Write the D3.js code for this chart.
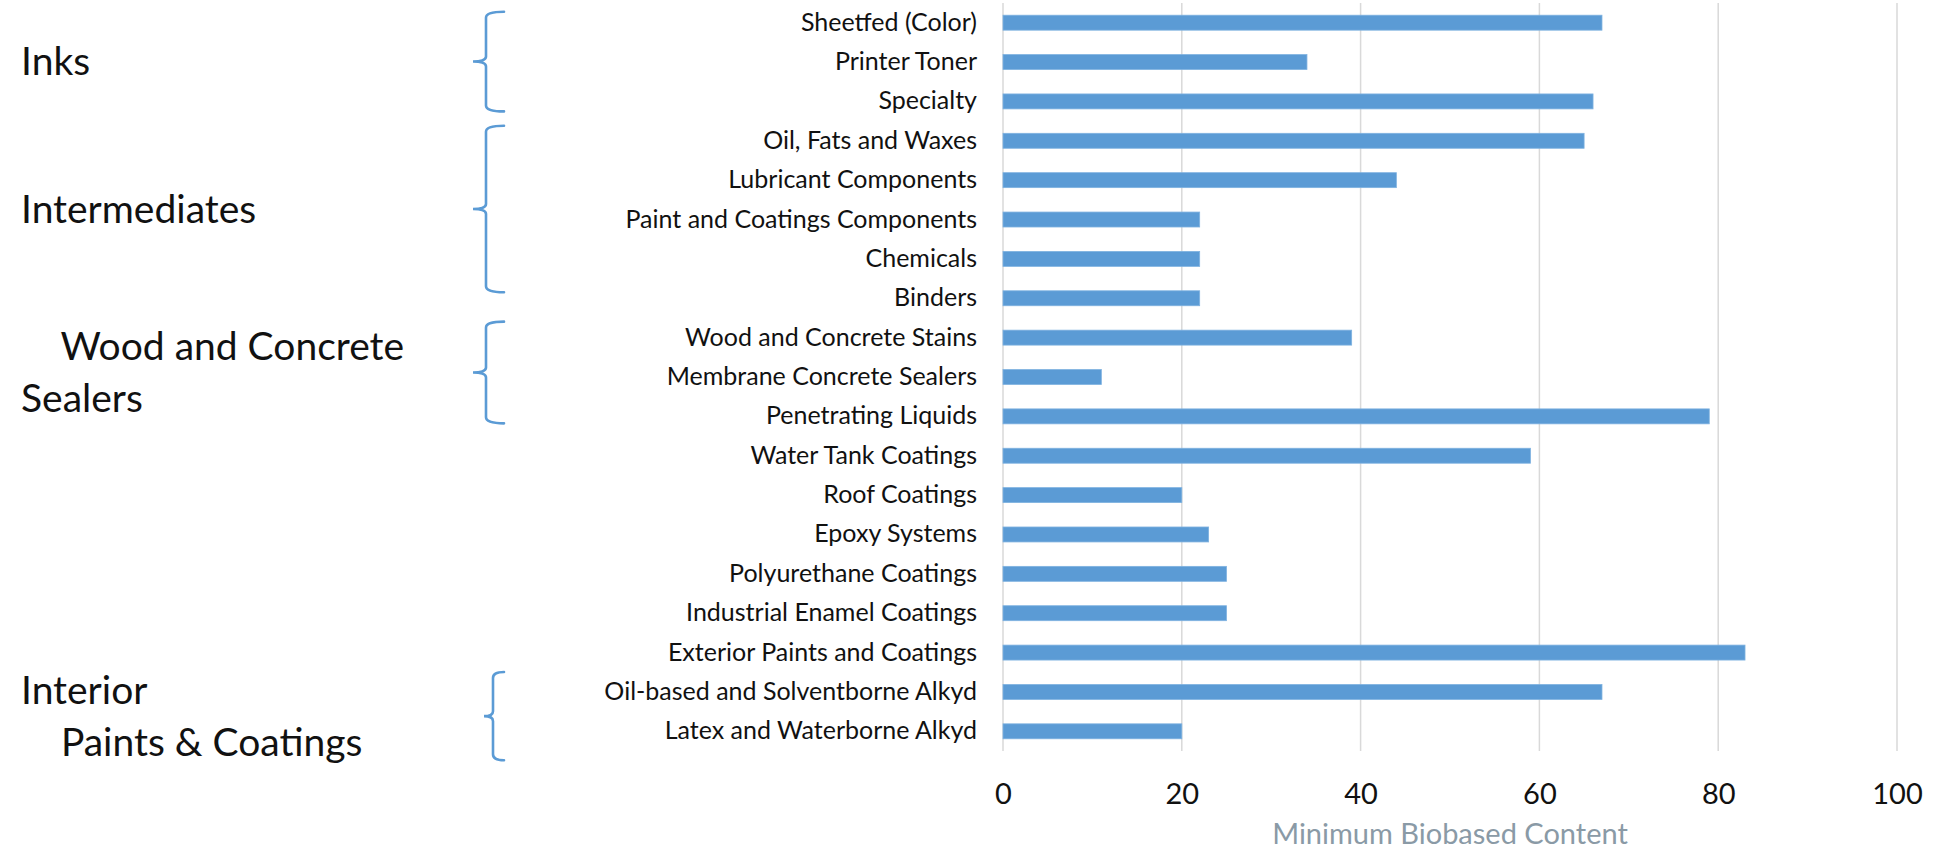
<!DOCTYPE html>
<html>
<head>
<meta charset="utf-8">
<script src="https://cdn.jsdelivr.net/npm/d3@7"></script>
<style>
  html, body { margin: 0; padding: 0; background: #fff; }
  svg { display: block; font-family: Lato, "Open Sans", sans-serif; }
  .group-label { white-space: pre; }
</style>
</head>
<body>
<svg id="chart" width="1936" height="852"></svg>
<script>
// Product categories, top to bottom
const categories = [
  "Sheetfed (Color)",
  "Printer Toner",
  "Specialty",
  "Oil, Fats and Waxes",
  "Lubricant Components",
  "Paint and Coatings Components",
  "Chemicals",
  "Binders",
  "Wood and Concrete Stains",
  "Membrane Concrete Sealers",
  "Penetrating Liquids",
  "Water Tank Coatings",
  "Roof Coatings",
  "Epoxy Systems",
  "Polyurethane Coatings",
  "Industrial Enamel Coatings",
  "Exterior Paints and Coatings",
  "Oil-based and Solventborne Alkyd",
  "Latex and Waterborne Alkyd"
];

// Minimum biobased content (%)
const minBiobased = [67, 34, 66, 65, 44, 22, 22, 22, 39, 11, 79, 59, 20, 23, 25, 25, 83, 67, 20];

const xTicks = [0, 20, 40, 60, 80, 100];
const axisTitle = "Minimum Biobased Content";

// Bracketed groups: label lines and the first/last category each covers
const groupLabels = [
  ["Inks"],
  ["Intermediates"],
  ["    Wood and Concrete", "Sealers"],
  ["Interior", "    Paints & Coatings"]
];
const groupFirst = ["Sheetfed (Color)", "Oil, Fats and Waxes", "Wood and Concrete Stains", "Oil-based and Solventborne Alkyd"];
const groupLast  = ["Specialty", "Binders", "Penetrating Liquids", "Latex and Waterborne Alkyd"];

const rows = categories.map((c, i) => ({ name: c, value: minBiobased[i] }));

const svg = d3.select("#chart");
const plot = { left: 1003, right: 1897, top: 3, bottom: 751 };
const blue = "#5b9bd5";

const x = d3.scaleLinear().domain([0, 100]).range([plot.left, plot.right]);
const y = d3.scaleBand()
  .domain(categories)
  .range([plot.top, plot.bottom])
  .paddingInner(0.62)
  .paddingOuter(0.31);
const mid = name => y(name) + y.bandwidth() / 2;

// Vertical gridlines
svg.append("g")
  .selectAll("line")
  .data(xTicks)
  .join("line")
  .attr("x1", d => x(d)).attr("x2", d => x(d))
  .attr("y1", plot.top).attr("y2", plot.bottom)
  .attr("stroke", "#d9d9d9")
  .attr("stroke-width", 1.5);

// Bars
svg.append("g")
  .selectAll("rect")
  .data(rows)
  .join("rect")
  .attr("x", x(0))
  .attr("y", d => y(d.name))
  .attr("width", d => x(d.value) - x(0))
  .attr("height", y.bandwidth())
  .attr("fill", blue)
  .attr("stroke", "#7fb2e0")
  .attr("stroke-width", 0.8);

// Category axis labels
const yAxis = d3.axisLeft(y).tickSize(0).tickPadding(26);
const gy = svg.append("g").attr("transform", `translate(${plot.left},0)`).call(yAxis);
gy.select(".domain").remove();
gy.selectAll("text")
  .attr("font-family", "Lato, 'Open Sans', sans-serif")
  .attr("font-size", 25)
  .attr("fill", "#111");

// Value axis labels
const xAxis = d3.axisBottom(x).tickValues(xTicks).tickSize(0).tickPadding(0);
const gx = svg.append("g").attr("transform", `translate(0,794)`).call(xAxis);
gx.select(".domain").remove();
gx.selectAll("text")
  .attr("font-family", "Lato, 'Open Sans', sans-serif")
  .attr("font-size", 29)
  .attr("fill", "#111")
  .attr("dy", "0.35em");

// Axis title
svg.append("text")
  .attr("x", (plot.left + plot.right) / 2)
  .attr("y", 834)
  .attr("dy", "0.35em")
  .attr("text-anchor", "middle")
  .attr("font-size", 29)
  .attr("fill", "#8a9aa6")
  .text(axisTitle);

// Curly braces pointing at each group label; each reaches a little above
// its first row and below its last row (top reach, bottom reach in px)
const braceReach = [[11, 10], [15, -6], [16, 7], [20, 29]];

function bracePath(top, tip, bottom, xTip, xLine, xEnd) {
  const r = 6;
  const t = 5;
  return `M${xEnd},${top} Q${xLine},${top} ${xLine},${top + r}` +
         ` L${xLine},${tip - t} Q${xLine},${tip} ${xTip},${tip}` +
         ` Q${xLine},${tip} ${xLine},${tip + t}` +
         ` L${xLine},${bottom - r} Q${xLine},${bottom} ${xEnd},${bottom}`;
}

const braces = groupLabels.map((lines, i) => {
  const top = mid(groupFirst[i]) - braceReach[i][0];
  const bottom = mid(groupLast[i]) + braceReach[i][1];
  const compact = bottom - top < 95;
  return { lines, top, bottom, tip: (top + bottom) / 2, compact };
});

svg.append("g")
  .selectAll("path")
  .data(braces)
  .join("path")
  .attr("d", d => d.compact
    ? bracePath(d.top, d.tip, d.bottom, 484, 493, 504)
    : bracePath(d.top, d.tip, d.bottom, 473, 486, 504))
  .attr("fill", "none")
  .attr("stroke", blue)
  .attr("stroke-width", 2.6)
  .attr("stroke-linecap", "round");

// Group labels
const lineGap = 52;
const gl = svg.append("g");
braces.forEach(b => {
  const n = b.lines.length;
  b.lines.forEach((line, j) => {
    gl.append("text")
      .attr("class", "group-label")
      .attr("x", 21)
      .attr("y", b.tip + (j - (n - 1) / 2) * lineGap)
      .attr("dy", "0.35em")
      .attr("font-size", 39)
      .attr("fill", "#111")
      .text(line);
  });
});
</script>
</body>
</html>
